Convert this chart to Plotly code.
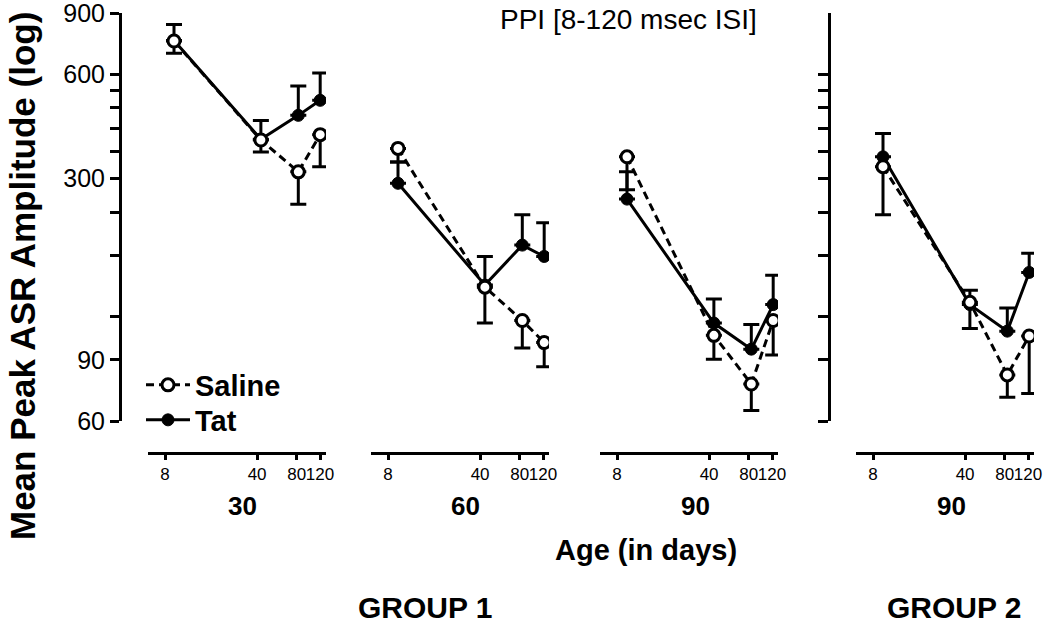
import math
import plotly.graph_objects as go

W, H = 1050, 624

def fx(p):
    return p / W

def fy(p):
    return 1 - p / H

# ---------------- data ----------------
isi = [8, 40, 80, 120]
x_tick_labels = ["8", "40", "80", "120"]
panel_ages = ["30", "60", "90", "90"]

sal_30 = [749, 388, 314, 402]
sal_30_err = [58, 30, 61, 77]
tat_30 = [752, 390, 457, 505]
tat_30_err = [84, 52, 98, 101]

sal_60 = [367, 146, 117, 101]
sal_60_err = [32, 31, 19.5, 15]
tat_60 = [291, 148, 193, 179]
tat_60_err = [44, 31, 43, 45]

sal_90 = [347, 106, 76.7, 117]
sal_90_err = [68, 15.6, 12.4, 24]
tat_90 = [262, 115, 96.7, 130]
tat_90_err = [52, 20, 17.3, 28]

sal_g2 = [325, 132, 81.5, 105.5]
sal_g2_err = [89, 21, 11.2, 33.5]
tat_g2 = [347, 130, 109, 161]
tat_g2_err = [58, 13, 18, 22]

y_tickvals = [60, 90, 120, 180, 240, 300, 360, 420, 480, 540, 600, 900]
y_labeled = [60, 90, 300, 600, 900]

saline_sets = [(sal_30, sal_30_err), (sal_60, sal_60_err), (sal_90, sal_90_err), (sal_g2, sal_g2_err)]
tat_sets = [(tat_30, tat_30_err), (tat_60, tat_60_err), (tat_90, tat_90_err), (tat_g2, tat_g2_err)]

# ---------------- layout geometry ----------------
FONT = "Liberation Sans, Arial, sans-serif"
tick8_px = [165, 388, 617, 873]      # where the "8" tick sits on each ISI axis
pt8_px = [174, 398, 627, 883]        # where the ISI=8 points sit
tick_scale = 131.8                   # px per decade, tick axis
data_scale = 124.3                   # px per decade, data axis
y_top, y_bot = 13, 421
x_axis_line_y = 453

fig = go.Figure()

def xname(i):
    return "x" if i == 1 else f"x{i}"

def draw_series(sets, name, dash, marker, up, legend):
    for k, (vals, err) in enumerate(sets):
        zeros = [0] * len(err)
        fig.add_trace(go.Scatter(
            x=isi, y=vals, name=name, legendgroup=name, showlegend=(k == 0), legend=legend,
            mode="lines+markers",
            line=dict(color="black", width=3, dash=dash),
            marker=marker,
            error_y=dict(type="data", symmetric=False,
                         array=err if up else zeros,
                         arrayminus=zeros if up else err,
                         width=8, thickness=3, color="black"),
            xaxis=xname(k + 1), yaxis="y2" if k == 3 else "y",
        ))

draw_series(tat_sets, "Tat", "solid",
            dict(symbol="circle", size=12, color="black", line=dict(color="black", width=1)),
            True, "legend2")
draw_series(saline_sets, "Saline", "8px,5px",
            dict(symbol="circle", size=12, color="white", line=dict(color="black", width=3)),
            False, "legend")

# invisible carriers so the ISI tick axes get drawn
for k in range(4):
    fig.add_trace(go.Scatter(x=isi, y=[None] * len(isi), mode="markers",
                             marker=dict(opacity=0), showlegend=False, hoverinfo="skip",
                             xaxis=f"x{k+5}", yaxis="y"))

leg_common = dict(xanchor="left", yanchor="middle",
                  font=dict(size=29, family=FONT, weight="bold"),
                  bgcolor="rgba(0,0,0,0)", itemwidth=44)
layout = dict(
    width=W, height=H, margin=dict(l=0, r=0, t=0, b=0, pad=0, autoexpand=False),
    paper_bgcolor="white", plot_bgcolor="rgba(0,0,0,0)",
    font=dict(family=FONT, color="black"),
    showlegend=True,
    legend=dict(x=fx(141), y=fy(385), **leg_common),
    legend2=dict(x=fx(141), y=fy(420), **leg_common),
)

ylog = [math.log10(60), math.log10(900) + 0.001]
ydom = [fy(y_bot), fy(y_top)]
layout["yaxis"] = dict(type="log", range=ylog, domain=ydom, anchor="free", position=fx(120),
                       tickmode="array", tickvals=y_tickvals,
                       ticktext=[str(v) if v in y_labeled else "" for v in y_tickvals],
                       ticks="outside", ticklen=9, tickwidth=3, tickcolor="black",
                       showline=True, linewidth=3, linecolor="black", ticklabeloverflow="allow",
                       automargin=False,
                       showgrid=False, zeroline=False, tickfont=dict(size=25, family=FONT))
layout["yaxis2"] = dict(type="log", range=ylog, domain=ydom, anchor="free", position=fx(829),
                        tickmode="array", tickvals=[v for v in y_tickvals if v <= 600],
                        showticklabels=False, automargin=False,
                        ticks="outside", ticklen=10, tickwidth=3, tickcolor="black",
                        showline=True, linewidth=3, linecolor="black",
                        showgrid=False, zeroline=False)

l8 = math.log10(8)
for k in range(4):
    L = tick8_px[k] - 17
    R = tick8_px[k] + 161
    dom = [fx(L), fx(R)]
    p8 = pt8_px[k]
    # data axis (hidden)
    layout["xaxis" if k == 0 else f"xaxis{k+1}"] = dict(
        type="log", domain=dom, visible=False, anchor="y2" if k == 3 else "y",
        range=[l8 - (p8 - L) / data_scale, l8 + (R - p8) / data_scale])
    # visible ISI tick axis below the panel
    layout[f"xaxis{k+5}"] = dict(
        type="log", domain=dom, anchor="free", position=fy(x_axis_line_y),
        range=[l8 - (tick8_px[k] - L) / tick_scale, l8 + (R - tick8_px[k]) / tick_scale],
        tickmode="array", tickvals=isi, ticktext=x_tick_labels, tickangle=0,
        ticks="outside", ticklen=5, tickwidth=3, tickcolor="black", automargin=False,
        showline=True, linewidth=3, linecolor="black",
        showgrid=False, zeroline=False, tickfont=dict(size=17, family=FONT))

fig.update_layout(**layout)

def label(text, px, py, size, **kw):
    d = dict(text=text, x=fx(px), y=fy(py), xref="paper", yref="paper", showarrow=False,
             xanchor="center", yanchor="middle", font=dict(size=size, family=FONT))
    d.update(kw)
    return d

ann = []
label_cx = [242, 465, 695, 951]
for k in range(4):
    ann.append(label(f"<b>{panel_ages[k]}</b>", label_cx[k], 506, 26))
ann.append(label("<b>Age (in days)</b>", 646, 550, 29))
ann.append(label("<b>GROUP 1</b>", 425, 607, 30))
ann.append(label("<b>GROUP 2</b>", 954, 607, 30))
ann.append(label("<b>Mean Peak ASR Amplitude (log)</b>", 22, 276, 35, textangle=-90))
ann.append(label("PPI [8-120 msec ISI]", 759, 19, 28, xanchor="right"))
fig.update_layout(annotations=ann)

fig.write_html("out.html", config={"displayModeBar": False},
               post_script="document.body.style.margin='0px';")
